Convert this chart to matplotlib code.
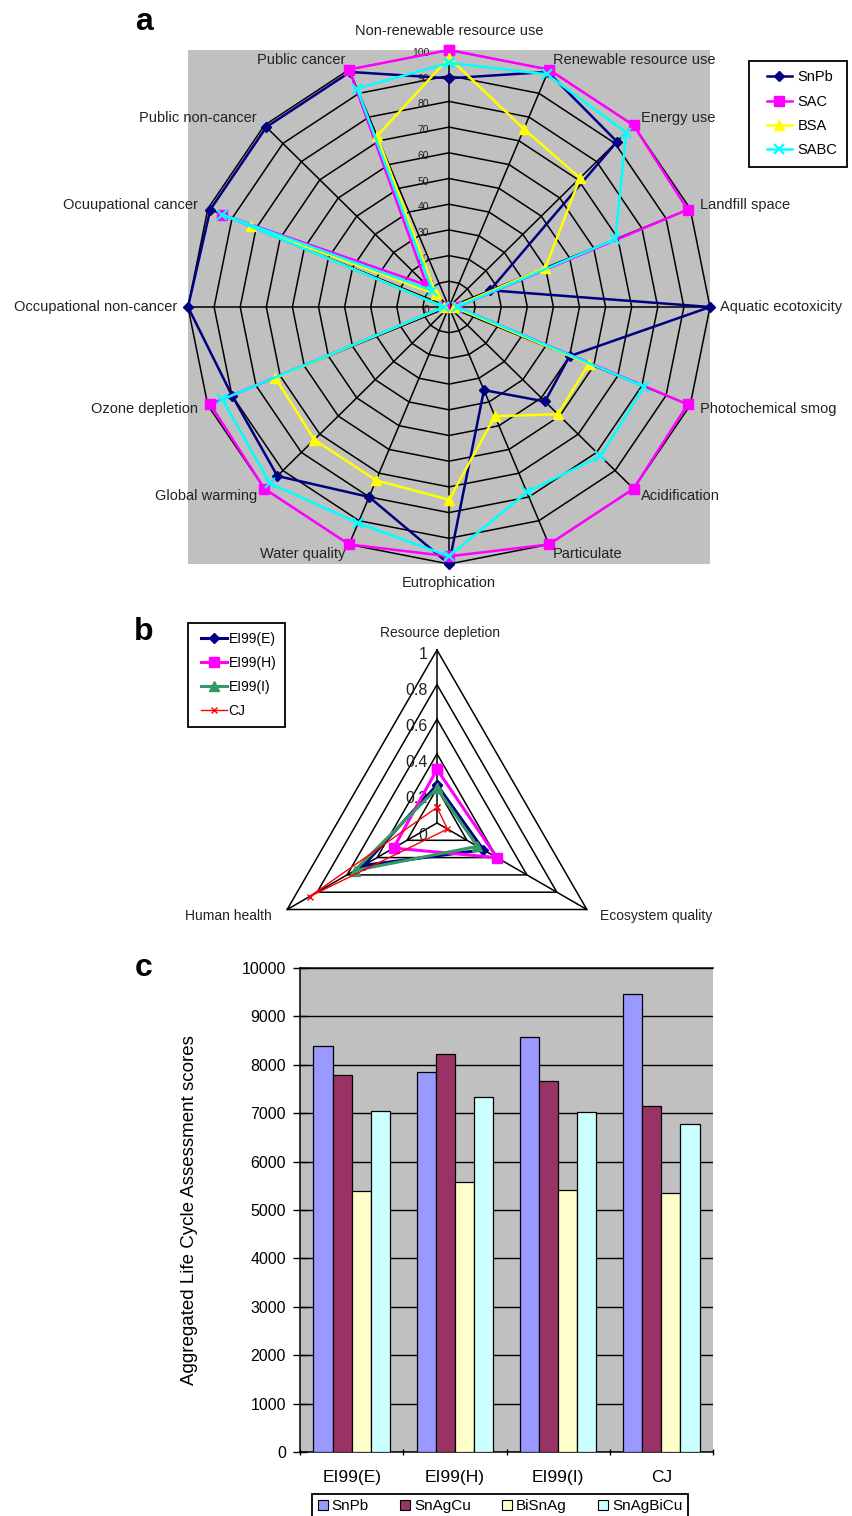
import numpy as np
import matplotlib
matplotlib.use("Agg")
import matplotlib.pyplot as plt
from matplotlib.patches import Patch
from matplotlib.legend_handler import HandlerLine2D
from matplotlib.lines import Line2D

plt.rcParams['font.family'] = ['Liberation Sans', 'DejaVu Sans']

# a: midpoint impact categories (clockwise from top), normalised scores
impact_cats = ["Non-renewable resource use", "Renewable resource use", "Energy use",
               "Landfill space", "Aquatic ecotoxicity", "Photochemical smog",
               "Acidification", "Particulate", "Eutrophication", "Water quality",
               "Global warming", "Ozone depletion", "Occupational non-cancer",
               "Ocuupational cancer", "Public non-cancer", "Public cancer"]
snpb = [89, 99, 91, 17, 100, 50, 52, 35, 100, 80, 93, 90, 100, 99, 99, 99]
sac = [100, 100, 100, 99, 3, 99, 100, 100, 97, 100, 100, 99, 2, 94, 12, 100]
bsa = [97, 75, 71, 40, 2, 58, 59, 46, 75, 73, 73, 72, 2, 82, 7, 72]
sabc = [95, 98, 96, 69, 3, 81, 82, 78, 97, 91, 97, 94, 2, 94, 9, 92]
ring_vals = [0, 10, 20, 30, 40, 50, 60, 70, 80, 90, 100]

# b: endpoint categories
end_cats = ["Resource depletion", "Ecosystem quality", "Human health"]
ei99_e = [0.22, 0.31, 0.49]
ei99_h = [0.31, 0.40, 0.29]
ei99_i = [0.20, 0.27, 0.55]
cj = [0.09, 0.07, 0.85]
tri_rings = [0, 0.2, 0.4, 0.6, 0.8, 1]
tri_labels = ["0", "0.2", "0.4", "0.6", "0.8", "1"]

# c: aggregated scores
methods = ["EI99(E)", "EI99(H)", "EI99(I)", "CJ"]
alloys = ["SnPb", "SnAgCu", "BiSnAg", "SnAgBiCu"]
score_snpb = [8380, 7850, 8580, 9470]
score_snagcu = [7780, 8220, 7670, 7150]
score_bisnag = [5390, 5570, 5420, 5350]
score_snagbicu = [7050, 7340, 7020, 6770]

W, H = 852, 1516
fig = plt.figure(figsize=(W / 100, H / 100), dpi=100)


def box(x0, y0, x1, y1):
    # axes from pixel corners (top-left origin)
    return fig.add_axes([x0 / W, 1 - y1 / H, (x1 - x0) / W, (y1 - y0) / H])


def radar_xy(vals):
    n = len(vals)
    ang = np.arange(n + 1) * 2 * np.pi / n
    v = np.append(np.asarray(vals, float), vals[0])
    return v * np.sin(ang), v * np.cos(ang)


# ---------------- a ----------------
ax = box(188, 50, 710, 564)
ax.set_facecolor('#c0c0c0')
ax.set_xlim(-100, 100)
ax.set_ylim(-100, 100)
ax.set_xticks([])
ax.set_yticks([])
for s in ax.spines.values():
    s.set_visible(False)

n = len(impact_cats)
for r in ring_vals[1:]:
    gx, gy = radar_xy([r] * n)
    ax.plot(gx, gy, color='black', lw=1.1, zorder=1, clip_on=False)
sx, sy = radar_xy([100] * n)
for i in range(n):
    ax.plot([0, sx[i]], [0, sy[i]], color='black', lw=1.1, zorder=1, clip_on=False)

for r in ring_vals:
    ax.text(-7.5, r - 1.2, str(r), ha='right', va='center', fontsize=7.5,
            color='#222222', zorder=1.5)

series_a = [("SnPb", snpb, '#000080', 'D', 5, 1),
            ("SAC", sac, '#ff00ff', 's', 7, 1),
            ("BSA", bsa, '#ffff00', '^', 7.5, 1),
            ("SABC", sabc, '#00ffff', 'x', 7, 1.6)]
lines_a = []
for name, vals, col, mk, ms, mew in series_a:
    px, py = radar_xy(vals)
    ln, = ax.plot(px, py, color=col, lw=1.8, marker=mk, ms=ms, mew=mew,
                  mec=col, mfc=col, label=name, zorder=3, clip_on=False)
    lines_a.append(ln)

ang = np.arange(n) * 2 * np.pi / n
for a_, lab in zip(ang, impact_cats):
    s, c = np.sin(a_), np.cos(a_)
    if abs(s) < 0.01:
        ax.text(0, 107.5 * np.sign(c), lab, ha='center', va='center',
                fontsize=10.5, color='#222222')
    else:
        ax.text(104 * s, 104 * c, lab, ha='left' if s > 0 else 'right',
                va='center', fontsize=10.5, color='#222222')

leg = ax.legend(handles=lines_a, loc='upper left',
                bbox_to_anchor=(749 / W, 1 - 61 / H),
                bbox_transform=fig.transFigure, fontsize=10.5, frameon=True,
                fancybox=False, edgecolor='black', framealpha=1,
                handlelength=2.33, labelspacing=0.7, borderaxespad=0,
                borderpad=0.65, handletextpad=0.34,
                handler_map={Line2D: HandlerLine2D(xpad=0.55)})
leg.get_frame().set_linewidth(1.3)

fig.text(144 / W, 1 - 22 / H, 'a', fontsize=23, fontweight='bold',
         ha='center', va='center')

# ---------------- b ----------------
bx = box(262, 630, 612, 930)
R = 173.0
bx.set_xlim(-175 / R, 175 / R)
bx.set_ylim(-107 / R, 193 / R)
bx.axis('off')

for r in tri_rings[1:]:
    tx, ty = radar_xy([r] * 3)
    bx.plot(tx, ty, color='black', lw=1.1, zorder=1, clip_on=False)
tx, ty = radar_xy([1] * 3)
for i in range(3):
    bx.plot([0, tx[i]], [0, ty[i]], color='black', lw=1.1, zorder=1)

for r, lab in zip(tri_rings, tri_labels):
    bx.text(-0.055, r * 1.045 - 0.07, lab, ha='right', va='center',
            fontsize=11.5, color='#222222', zorder=1.5)

series_b = [("EI99(E)", ei99_e, '#000080', 'D', 5, 2.2, 1),
            ("EI99(H)", ei99_h, '#ff00ff', 's', 7, 2.2, 1),
            ("EI99(I)", ei99_i, '#339966', '^', 7, 2.2, 1),
            ("CJ", cj, '#ff0000', 'x', 4.5, 1.0, 1)]
lines_b = []
for name, vals, col, mk, ms, lw, mew in series_b:
    px, py = radar_xy(vals)
    ln, = bx.plot(px, py, color=col, lw=lw, marker=mk, ms=ms, mew=mew,
                  mec=col, mfc=col, label=name, zorder=3, clip_on=False)
    lines_b.append(ln)

bx.text(0.02, 1.10, end_cats[0], ha='center', va='center', fontsize=10,
        color='#222222')
bx.text(0.94, -0.54, end_cats[1], ha='left', va='center', fontsize=10,
        color='#222222')
bx.text(-0.955, -0.54, end_cats[2], ha='right', va='center', fontsize=10,
        color='#222222')

leg = bx.legend(handles=lines_b, loc='upper left',
                bbox_to_anchor=(188 / W, 1 - 623 / H),
                bbox_transform=fig.transFigure, fontsize=10, frameon=True,
                fancybox=False, edgecolor='black', framealpha=1,
                handlelength=2.16, labelspacing=0.73, borderaxespad=0,
                borderpad=0.62, handletextpad=0.14,
                handler_map={Line2D: HandlerLine2D(xpad=0.29)})
leg.get_frame().set_linewidth(1.3)

fig.text(144 / W, 1 - 632 / H, 'b', fontsize=23, fontweight='bold',
         ha='center', va='center')

# ---------------- c ----------------
cx = box(300, 968, 713, 1452)
cx.set_facecolor('#c0c0c0')
xpos = np.arange(len(methods))
bw = 0.185
bar_cols = ['#9999ff', '#993366', '#ffffcc', '#ccffff']
for i, vals in enumerate([score_snpb, score_snagcu, score_bisnag, score_snagbicu]):
    cx.bar(xpos + (i - 1.5) * bw, vals, bw, color=bar_cols[i],
           edgecolor='black', lw=0.9, zorder=3, label=alloys[i])

cx.set_xlim(-0.5, len(methods) - 0.5)
cx.set_ylim(0, 10000)
cx.set_yticks(range(0, 10001, 1000))
cx.yaxis.grid(True, color='black', lw=1.0)
cx.set_axisbelow(True)
cx.set_xticks(xpos)
cx.set_xticklabels(methods, fontsize=12.5)
cx.set_xticks(np.arange(len(methods) + 1) - 0.5, minor=True)
cx.tick_params(axis='x', which='major', length=0, pad=13)
cx.tick_params(axis='x', which='minor', direction='inout', length=5, width=1)
cx.tick_params(axis='y', direction='inout', length=10, width=1, labelsize=11.5,
               pad=5)
cx.spines['right'].set_visible(False)
for k in ['left', 'bottom', 'top']:
    cx.spines[k].set_linewidth(1.1)
cx.set_ylabel("Aggregated Life Cycle Assessment scores", fontsize=13.5)
cx.yaxis.set_label_coords((198 - 300) / 413, 0.5)

handles = [Patch(facecolor=c, edgecolor='black', lw=0.8) for c in bar_cols]
leg = cx.legend(handles, alloys, loc='upper center', ncol=4,
                bbox_to_anchor=(500 / W, 1 - 1494 / H),
                bbox_transform=fig.transFigure, fontsize=11, frameon=True,
                fancybox=False, edgecolor='black', framealpha=1,
                handlelength=0.65, handleheight=0.65, handletextpad=0.26,
                columnspacing=2.05, borderaxespad=0, borderpad=0.35)
leg.get_frame().set_linewidth(1.3)

fig.text(144 / W, 1 - 968 / H, 'c', fontsize=23, fontweight='bold',
         ha='center', va='center')

fig.savefig('out.png', dpi=100)
